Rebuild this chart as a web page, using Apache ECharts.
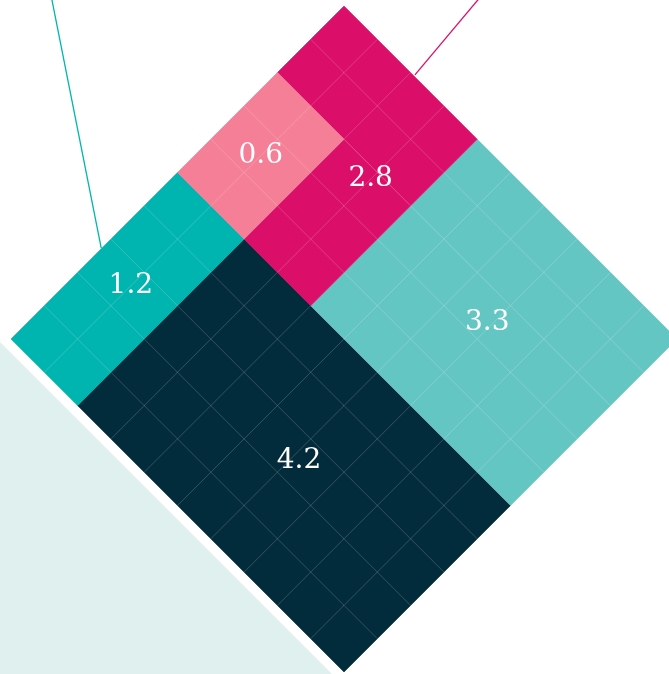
<!DOCTYPE html>
<html><head><meta charset="utf-8">
<script src="https://cdn.jsdelivr.net/npm/echarts@6/dist/echarts.min.js"></script>
<style>html,body{margin:0;padding:0;background:#fff}#c{width:669px;height:674px}</style>
</head><body><div id="c"></div>
<script>
// ---- data ----
const labels = ['4.2', '3.3', '2.8', '1.2', '0.6'];
const values = [4.2, 3.3, 2.8, 1.2, 0.6];
const colors = ['#022b3c', '#64c6c3', '#db0e6a', '#00b5af', '#f47f96'];

// ---- layout (10x10 cell grid; u = along upper-right edge, v = along upper-left edge) ----
const blockRects = [
  [[2, 5, 8, 5]],
  [[4, 0, 6, 5]],
  [[0, 0, 4, 2], [2, 2, 2, 3]],
  [[0, 5, 2, 5]],
  [[0, 2, 2, 3]]
];
const labelAnchors = [[6.15, 7.5], [6.9, 2.6], [3, 2.2], [1, 7.4], [1, 3.5]];
const leaderLines = [
  { from: [-4.565, 4.235], to: [-0.01, 7.28], color: '#00b5af' },
  { from: [1.907, -2.237], to: [2.10, -0.03], color: '#db0e6a' }
];
const shadeEdge = 10.21;

function toXY(u, v) { return [u - v, u + v]; }

const chart = echarts.init(document.getElementById('c'), null, { renderer: 'canvas' });

function blockItem(params, api) {
  const i = api.value(0);
  const rects = blockRects[i];
  const color = colors[i];
  const P = (u, v) => api.coord(toXY(u, v));
  const children = [];
  const cells = new Set();
  rects.forEach(r => {
    const [u0, v0, w, h] = r;
    children.push({
      type: 'polygon',
      shape: { points: [P(u0, v0), P(u0 + w, v0), P(u0 + w, v0 + h), P(u0, v0 + h)] },
      style: { fill: color, stroke: color, lineWidth: 0.6 }
    });
    for (let u = u0; u < u0 + w; u++) for (let v = v0; v < v0 + h; v++) cells.add(u + ',' + v);
  });
  cells.forEach(k => {
    const [u, v] = k.split(',').map(Number);
    if (cells.has((u + 1) + ',' + v)) {
      const a = P(u + 1, v), b = P(u + 1, v + 1);
      children.push({ type: 'line', shape: { x1: a[0], y1: a[1], x2: b[0], y2: b[1] },
        style: { stroke: 'rgba(255,255,255,0.24)', lineWidth: 0.8 } });
    }
    if (cells.has(u + ',' + (v + 1))) {
      const a = P(u, v + 1), b = P(u + 1, v + 1);
      children.push({ type: 'line', shape: { x1: a[0], y1: a[1], x2: b[0], y2: b[1] },
        style: { stroke: 'rgba(255,255,255,0.24)', lineWidth: 0.8 } });
    }
  });
  const c = P(labelAnchors[i][0], labelAnchors[i][1]);
  children.push({
    type: 'text',
    style: { text: labels[i], x: c[0], y: c[1], fill: '#ffffff',
      font: '28px "DejaVu Serif", serif', align: 'center', verticalAlign: 'middle' }
  });
  return { type: 'group', children };
}

chart.setOption({
  animation: false,
  grid: { left: 0, top: 0, right: 0, bottom: 0 },
  xAxis: { type: 'value', min: -344 / 33.3, max: 325 / 33.3, show: false },
  yAxis: { type: 'value', inverse: true, min: -6 / 33.3, max: 668 / 33.3, show: false },
  series: [
    {
      type: 'custom', silent: true, clip: true,
      data: [[0]],
      renderItem: (params, api) => {
        const P = (u, v) => api.coord(toXY(u, v));
        return { type: 'polygon',
          shape: { points: [P(-40, shadeEdge), P(40, shadeEdge), P(40, 40), P(-40, 40)] },
          style: { fill: '#dff0ef' } };
      }
    },
    {
      type: 'custom', silent: true, clip: true,
      data: values.map((v, i) => ({ name: labels[i], value: [i, v] })),
      renderItem: blockItem
    },
    {
      type: 'custom', silent: true, clip: true,
      data: leaderLines.map((l, i) => [i]),
      renderItem: (params, api) => {
        const l = leaderLines[api.value(0)];
        const a = api.coord(toXY(l.from[0], l.from[1]));
        const b = api.coord(toXY(l.to[0], l.to[1]));
        return { type: 'line', shape: { x1: a[0], y1: a[1], x2: b[0], y2: b[1] },
          style: { stroke: l.color, lineWidth: 1.3 } };
      }
    }
  ]
});
</script></body></html>
